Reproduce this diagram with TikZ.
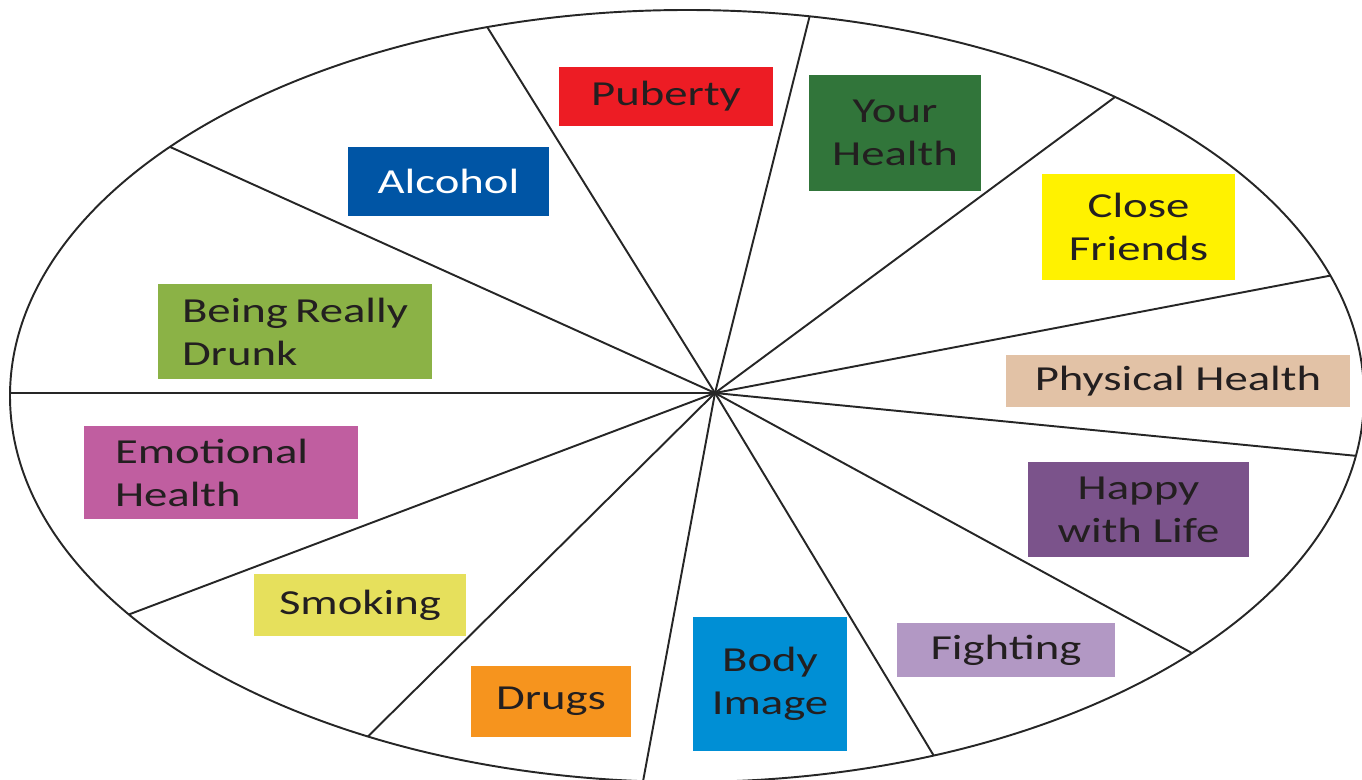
\documentclass[tikz,border=0pt]{standalone}
\usepackage{fontspec}
\newfontfamily\topicfont{Carlito}[FakeStretch=1.33]
\usepackage{xcolor}
\definecolor{inkdark}{RGB}{35,31,32}
\definecolor{pubertyred}{RGB}{237,28,36}
\definecolor{yourgreen}{RGB}{49,117,58}
\definecolor{closeyellow}{RGB}{255,242,0}
\definecolor{physicaltan}{RGB}{226,194,166}
\definecolor{happypurple}{RGB}{123,83,139}
\definecolor{fightlilac}{RGB}{178,152,196}
\definecolor{bodyblue}{RGB}{0,143,213}
\definecolor{drugsorange}{RGB}{246,148,30}
\definecolor{smokingyellow}{RGB}{230,224,92}
\definecolor{emotionalpink}{RGB}{192,94,160}
\definecolor{drunkgreen}{RGB}{139,178,70}
\definecolor{alcoholblue}{RGB}{0,85,165}

\begin{document}
\begin{tikzpicture}[
    spoke/.style={black!85, line width=0.55pt},
    topic/.style={inner sep=0pt, align=center, text=inkdark,
      font=\topicfont\fontsize{10}{12.2}\selectfont},
    lefttopic/.style={topic, align=flush left, inner ysep=0pt}
  ]
  \useasboundingbox (0,0) rectangle (13.62,-7.80);

  % ---- Wheel ----
  \coordinate (rim) at (6.87,-3.96);
  \coordinate (hub) at (7.15,-3.93);
  \begin{scope}
    \clip (rim) ellipse [x radius=6.77, y radius=3.86];
    \foreach \ang in {180,155.7,121.9,75.9,36.5,10.8,-5.6,-28.6,-58.9,-100.5,-135.3,-159.3}
      \draw[spoke] (hub) -- ++(\ang:9);
  \end{scope}
  \draw[spoke] (rim) ellipse [x radius=6.77, y radius=3.86];

  % ---- Topic boxes (clockwise from top) ----
  \node[topic, fill=pubertyred, minimum width=2.14cm, minimum height=0.59cm] (puberty) at (6.66,-0.965) {Puberty};
  \node[topic, fill=yourgreen, minimum width=1.72cm, minimum height=1.16cm] (yourhealth) at (8.95,-1.33) {Your\\Health};
  \node[topic, fill=closeyellow, minimum width=1.93cm, minimum height=1.06cm] (friends) at (11.385,-2.27) {Close\\Friends};
  \node[topic, fill=physicaltan, minimum width=3.44cm, minimum height=0.52cm] (physical) at (11.78,-3.81) {Physical Health};
  \node[topic, fill=happypurple, minimum width=2.21cm, minimum height=0.95cm] (happy) at (11.385,-5.095) {Happy\\with Life};
  \node[topic, fill=fightlilac, minimum width=2.18cm, minimum height=0.54cm] (fighting) at (10.06,-6.50) {Fighting};
  \node[topic, fill=bodyblue, minimum width=1.54cm, minimum height=1.34cm] (body) at (7.70,-6.84) {Body\\Image};
  \node[topic, fill=drugsorange, minimum width=1.60cm, minimum height=0.71cm] (drugs) at (5.51,-7.015) {Drugs};
  \node[topic, fill=smokingyellow, minimum width=2.12cm, minimum height=0.62cm] (smoking) at (3.60,-6.05) {Smoking};
  \node[lefttopic, fill=emotionalpink, text width=2.12cm, inner xsep=0.31cm, minimum height=0.93cm] (emotional) at (2.21,-4.725) {Emotional\\Health};
  \node[lefttopic, fill=drunkgreen, text width=2.26cm, inner xsep=0.24cm, minimum height=0.95cm] (drunk) at (2.95,-3.315) {Being~Really\\Drunk};
  \node[topic, fill=alcoholblue, text=white, minimum width=2.01cm, minimum height=0.69cm] (alcohol) at (4.485,-1.815) {Alcohol};

\end{tikzpicture}
\end{document}
